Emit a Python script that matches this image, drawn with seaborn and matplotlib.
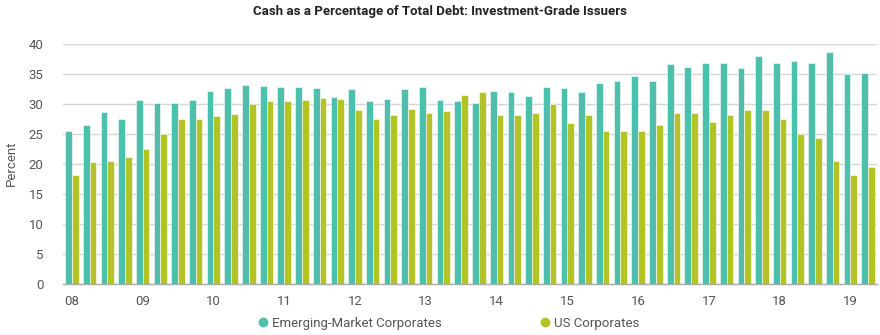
import matplotlib
matplotlib.use("Agg")
import matplotlib.pyplot as plt
from matplotlib.lines import Line2D
import numpy as np
import pandas as pd
import seaborn as sns

# Quarterly observations, 2008 Q1 through 2019 Q2
years = list(range(2008, 2020))
quarters = [f"{y}Q{q}" for y in years for q in range(1, 5)][:46]

em_corporates = [
    25.5, 26.5, 28.6, 27.5, 30.7, 30.2, 30.2, 30.7, 32.2, 32.6,
    33.2, 33.0, 32.9, 32.8, 32.7, 31.2, 32.5, 30.5, 30.8, 32.5,
    32.8, 30.7, 30.4, 30.2, 32.1, 32.0, 31.3, 32.9, 32.7, 32.0,
    33.5, 33.9, 34.7, 33.9, 36.6, 36.2, 36.9, 36.8, 36.0, 38.0,
    36.8, 37.2, 36.9, 38.7, 35.0, 35.2,
]
us_corporates = [
    18.2, 20.3, 20.5, 21.2, 22.5, 24.9, 27.4, 27.5, 28.0, 28.3,
    29.9, 30.5, 30.5, 30.7, 31.0, 30.8, 28.9, 27.5, 28.2, 29.2,
    28.5, 28.8, 31.4, 31.9, 28.2, 28.2, 28.5, 29.9, 26.8, 28.2,
    25.4, 25.4, 25.4, 26.4, 28.5, 28.4, 27.0, 28.2, 29.0, 28.9,
    27.5, 24.9, 24.3, 20.5, 18.2, 19.4,
]

series_names = ["Emerging-Market Corporates", "US Corporates"]
series_colors = ["#4dbfad", "#b2c326"]
year_labels = ["08", "09", "10", "11", "12", "13", "14", "15", "16", "17", "18", "19"]
y_ticks = [0, 5, 10, 15, 20, 25, 30, 35, 40]

df = pd.DataFrame({
    "quarter": quarters * 2,
    "value": em_corporates + us_corporates,
    "series": [series_names[0]] * len(quarters) + [series_names[1]] * len(quarters),
})

sns.set_theme(style="white")
plt.rcParams["font.family"] = ["Roboto", "DejaVu Sans"]

fig = plt.figure(figsize=(8.8, 3.35), dpi=100)
ax = fig.add_axes([0.0716, 0.1537, 0.925, 0.715])

sns.barplot(
    data=df, x="quarter", y="value", hue="series", order=quarters,
    hue_order=series_names, palette=series_colors, width=0.76,
    saturation=1, edgecolor="white", linewidth=0.4, legend=False, ax=ax,
)

ax.set_ylim(0, 40)
ax.set_yticks(y_ticks)
ax.set_yticklabels([str(t) for t in y_ticks])
ax.yaxis.grid(True, color="#d6d6d6", linewidth=1)
ax.set_axisbelow(True)

tick_pos = [quarters.index(f"{y}Q1") for y in years]
ax.set_xticks(tick_pos)
ax.set_xticklabels(year_labels)
ax.set_xlim(-0.5, len(quarters) - 0.5)

for s in ["top", "right", "left"]:
    ax.spines[s].set_visible(False)
ax.spines["bottom"].set_color("#aaaaaa")
ax.spines["bottom"].set_linewidth(1)

ax.tick_params(axis="both", length=0, labelsize=9.5, colors="#555555")
ax.tick_params(axis="y", pad=14)
ax.tick_params(axis="x", pad=8)
ax.set_xlabel("")
ax.set_ylabel("Percent", fontsize=9.5, color="#555555")
ax.yaxis.set_label_coords(-0.055, 0.5)

fig.suptitle("Cash as a Percentage of Total Debt: Investment-Grade Issuers",
             x=0.5, y=0.985, fontsize=9.5, fontweight="bold", color="#222222")

handles = [Line2D([0], [0], marker="o", linestyle="", markersize=6,
                  markerfacecolor=c, markeredgecolor=c) for c in series_colors]
fig.legend(handles, series_names, loc="lower center", bbox_to_anchor=(0.51, -0.02),
           ncol=2, frameon=False, fontsize=9.5, handlelength=0.8, handletextpad=0.3,
           columnspacing=7.4, labelcolor="#555555")

fig.savefig("out.png", dpi=100)
